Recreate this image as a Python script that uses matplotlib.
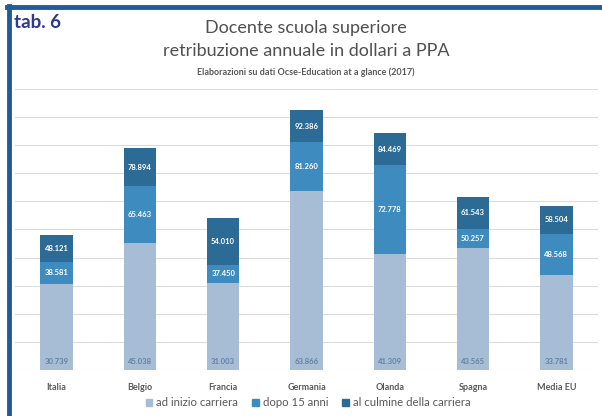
import matplotlib
matplotlib.use("Agg")
import matplotlib.pyplot as plt
import matplotlib.patches as mpatches
from matplotlib.lines import Line2D
import numpy as np

plt.rcParams['font.family'] = ['Lato', 'DejaVu Sans']

# data
paesi = ['Italia', 'Belgio', 'Francia', 'Germania', 'Olanda', 'Spagna', 'Media EU']
inizio = [30739, 45038, 31003, 63866, 41309, 43565, 33781]
dopo_15 = [38581, 65463, 37450, 81260, 72778, 50257, 48568]
culmine = [48121, 78894, 54010, 92386, 84469, 61543, 58504]
serie = ['ad inizio carriera', 'dopo 15 anni', 'al culmine della carriera']

c_light = '#A6BDD5'
c_mid = '#3E8BC0'
c_dark = '#2D6B97'
grigio = '#595959'

def fmt(v):
    return f"{v:,}".replace(",", ".")

fig = plt.figure(figsize=(6.02, 4.16), dpi=100)
ax = fig.add_axes([15/602, 1 - 370/416, 583/602, 281/416])

x = np.arange(len(paesi))
w = 0.39
ax.bar(x, culmine, w, color=c_dark, zorder=2)
ax.bar(x, dopo_15, w, color=c_mid, zorder=3)
ax.bar(x, inizio, w, color=c_light, zorder=4)

for i in range(len(paesi)):
    ax.annotate(fmt(inizio[i]), (x[i], 0), xytext=(0, 6), textcoords='offset points',
                ha='center', va='center', fontsize=5.5, fontweight='bold', color='#6481A3', zorder=5)
    ax.text(x[i], (inizio[i] + dopo_15[i]) / 2, fmt(dopo_15[i]), ha='center', va='center',
            fontsize=5.5, fontweight='bold', color='white', zorder=5)
    ax.text(x[i], (dopo_15[i] + culmine[i]) / 2, fmt(culmine[i]), ha='center', va='center',
            fontsize=5.5, fontweight='bold', color='white', zorder=5)

ax.set_xlim(-0.5, len(paesi) - 0.5)
ax.set_ylim(0, 100000)
ax.set_yticks(np.arange(0, 100001, 10000))
ax.yaxis.grid(True, color='#DCDCDC', lw=0.8, zorder=0)
ax.set_axisbelow(True)
ax.tick_params(axis='y', left=False, labelleft=False)
ax.tick_params(axis='x', bottom=False, pad=6)
ax.set_xticks(x)
ax.set_xticklabels(paesi, fontsize=6.5, color=grigio, fontweight='bold')
for s in ax.spines.values():
    s.set_visible(False)

# titles
fig.text(306/602, 1 - 28/416, 'Docente scuola superiore', ha='center', va='center',
         fontsize=13, color='#505050')
fig.text(306/602, 1 - 51/416, 'retribuzione annuale in dollari a PPA', ha='center', va='center',
         fontsize=13, color='#505050')
fig.text(306/602, 1 - 72/416, 'Elaborazioni su dati Ocse-Education at a glance (2017)',
         ha='center', va='center', fontsize=6.5, color=grigio, fontweight='bold')
fig.text(14/602, 1 - 22/416, 'tab. 6', ha='left', va='center', fontsize=13.5,
         fontweight='bold', color='#2E3A8C')

# legend
handles = [mpatches.Patch(color=c) for c in (c_light, c_mid, c_dark)]
fig.legend(handles, serie, loc='center', bbox_to_anchor=(308/602, 1 - 403/416), ncol=3,
           frameon=False, fontsize=8.2, labelcolor=grigio, handlelength=0.6, handleheight=0.6,
           handletextpad=0.35, columnspacing=1.2)

# frame lines top and left
fig.add_artist(Line2D([7/602, 1], [1 - 7/416, 1 - 7/416], color='#1F5D9A', lw=3.5))
fig.add_artist(Line2D([9/602, 9/602], [0, 1 - 5.5/416], color='#1F5D9A', lw=3.5))

fig.savefig('out.png', dpi=100)
